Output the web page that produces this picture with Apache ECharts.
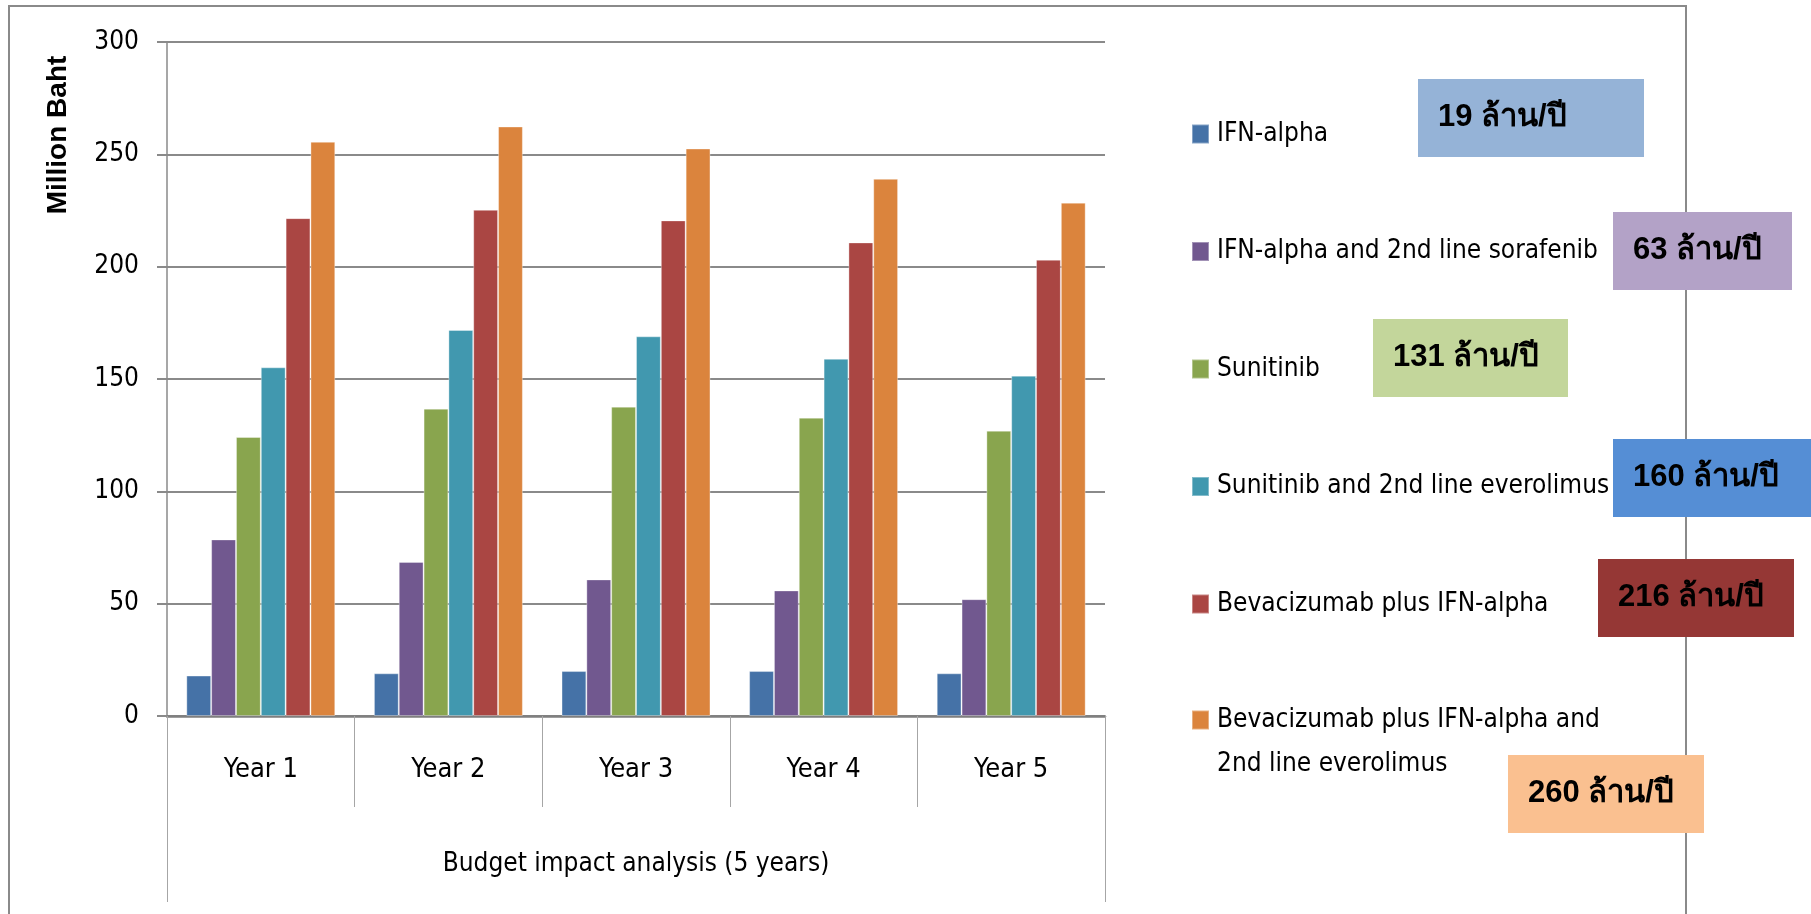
<!DOCTYPE html>
<html>
<head>
<meta charset="utf-8">
<title>Budget impact analysis</title>
<script src="https://cdn.jsdelivr.net/npm/echarts@6/dist/echarts.min.js"></script>
<style>
    html, body { margin: 0; padding: 0; background: #fff; }
    #chart { width: 1811px; height: 914px; }
</style>
</head>
<body>
<div id="chart"></div>
<script>
// ข้อมูล (ล้านบาท)
var years = ['Year 1', 'Year 2', 'Year 3', 'Year 4', 'Year 5'];
var groupLabel = ['Budget impact analysis (5 years)'];
var seriesNames = [
    'IFN-alpha',
    'IFN-alpha and 2nd line sorafenib',
    'Sunitinib',
    'Sunitinib and 2nd line everolimus',
    'Bevacizumab plus IFN-alpha',
    'Bevacizumab plus IFN-alpha and\n2nd line everolimus'
];
var ifnAlpha = [18, 19, 20, 20, 19];
var ifnSorafenib = [78.6, 68.6, 60.8, 55.9, 52];
var sunitinib = [124.2, 136.8, 137.7, 132.8, 127];
var sunitinibEverolimus = [155.2, 171.8, 169, 159, 151.5];
var bevIfn = [221.6, 225.3, 220.6, 210.8, 203.1];
var bevIfnEverolimus = [255.6, 262.4, 252.6, 239.1, 228.5];
var yTicks = [0, 50, 100, 150, 200, 250, 300];
var perYear = [19, 63, 131, 160, 216, 260];

var barColors = ['#4572A7', '#71588F', '#89A54E', '#4198AF', '#AA4643', '#DB843D'];
var boxColors = ['#95B3D7', '#B3A2C7', '#C3D69B', '#558ED5', '#953735', '#FAC090'];
// กล่องข้อความ [x, y, w]
var boxPos = [
    [1418, 79, 226],
    [1613, 212, 179],
    [1373, 319, 195],
    [1613, 439, 198],
    [1598, 559, 196],
    [1508, 755, 196]
];

var narrow = '"DejaVu Sans Condensed", "DejaVu Sans", sans-serif';
var gray = '#8a8a8a';

var allData = [ifnAlpha, ifnSorafenib, sunitinib, sunitinibEverolimus, bevIfn, bevIfnEverolimus];
var series = allData.map(function (d, i) {
    return {
        name: seriesNames[i],
        type: 'bar',
        data: d,
        barGap: '0%',
        barCategoryGap: '20.6%',
        itemStyle: {
            color: barColors[i],
            borderColor: 'rgba(255,255,255,0.35)',
            borderWidth: 1
        }
    };
});

var legendText = { fontFamily: narrow, fontSize: 26, color: '#000', lineHeight: 34, padding: [0, 0, 0, 3] };
var lastName = seriesNames[seriesNames.length - 1];

var graphics = [
    {
        type: 'rect', z: 0, silent: true,
        shape: { x: 9, y: 6, width: 1677, height: 1000 },
        style: { fill: 'none', stroke: gray, lineWidth: 2 }
    },
    {
        type: 'text', x: 58, y: 135, rotation: Math.PI / 2, z: 5,
        style: {
            text: 'Million Baht', align: 'center', verticalAlign: 'middle',
            font: 'bold 28px "Liberation Sans", Arial, sans-serif', fill: '#000'
        }
    }
];
perYear.forEach(function (v, i) {
    var p = boxPos[i];
    graphics.push({
        type: 'rect', z: 10,
        shape: { x: p[0], y: p[1], width: p[2], height: 78 },
        style: { fill: boxColors[i] }
    });
    graphics.push({
        type: 'text', z: 11,
        x: p[0] + 20, y: p[1] + 38,
        style: {
            text: v + ' ล้าน/ปี', verticalAlign: 'middle',
            font: 'bold 31px "Liberation Sans", Arial, sans-serif', fill: '#000'
        }
    });
});

var option = {
    animation: false,
    grid: { left: 167, right: 706, top: 42, bottom: 198, containLabel: false },
    legend: [
        {
            orient: 'vertical',
            left: 1191,
            top: 117,
            padding: 0,
            itemWidth: 17,
            itemHeight: 19,
            itemGap: 83.5,
            icon: 'rect',
            textStyle: legendText,
            data: seriesNames.slice(0, seriesNames.length - 1)
        },
        {
            // ชื่อสองบรรทัด: เติมบรรทัดว่างด้านบนให้สัญลักษณ์ตรงกับบรรทัดแรก
            orient: 'vertical',
            left: 1191,
            top: 654,
            padding: 0,
            itemWidth: 17,
            itemHeight: 19,
            icon: 'rect',
            formatter: function (name) { return '\n' + name; },
            textStyle: { fontFamily: narrow, fontSize: 26, color: '#000', lineHeight: 44, padding: [0, 0, 0, 3] },
            data: [lastName]
        }
    ],
    xAxis: [
        {
            type: 'category',
            data: years,
            axisLine: { lineStyle: { color: '#7f7f7f', width: 2.5 } },
            axisTick: { show: true, interval: 0, length: 91, lineStyle: { color: '#a6a6a6', width: 1 } },
            axisLabel: { interval: 0, margin: 40, fontFamily: narrow, fontSize: 27, color: '#000' }
        },
        {
            type: 'category',
            position: 'bottom',
            data: groupLabel,
            axisLine: { show: false },
            axisTick: { show: true, length: 186, lineStyle: { color: '#a6a6a6', width: 1 } },
            axisLabel: { margin: 135, fontFamily: narrow, fontSize: 26, color: '#000' }
        }
    ],
    yAxis: {
        type: 'value',
        min: yTicks[0],
        max: yTicks[yTicks.length - 1],
        interval: yTicks[1] - yTicks[0],
        axisLine: { show: true, lineStyle: { color: gray, width: 1.5 } },
        axisTick: { show: true, length: 10, lineStyle: { color: gray, width: 2 } },
        axisLabel: { margin: 28, fontFamily: narrow, fontSize: 26, color: '#000' },
        splitLine: { lineStyle: { color: gray, width: 2 } }
    },
    graphic: graphics,
    series: series
};

var chart = echarts.init(document.getElementById('chart'));
chart.setOption(option);
</script>
</body>
</html>
